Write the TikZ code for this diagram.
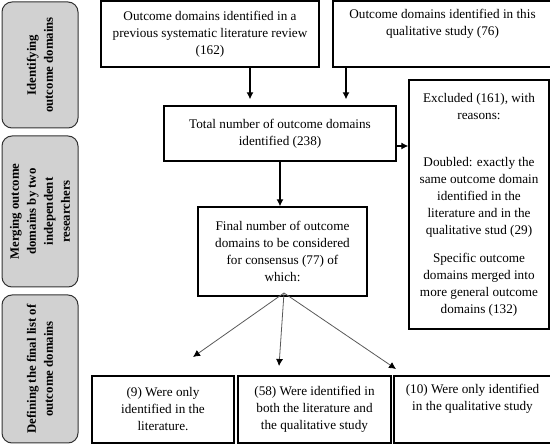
\documentclass[tikz,border=0pt]{standalone}
\usepackage{fontspec}
\setmainfont{Liberation Serif}
\usetikzlibrary{arrows.meta}

\begin{document}
\begin{tikzpicture}[x=1pt,y=1pt,
  box/.style={draw,line width=1.4pt,align=center,inner sep=2pt,font=\fontsize{13.2}{17}\selectfont},
  phase/.style={draw=black!80,line width=1pt,rounded corners=10pt,fill=black!18,rotate=90,align=center,minimum height=76pt,font=\fontsize{12.8}{17}\selectfont\bfseries},
  arr/.style={line width=1.1pt,-{Latex[length=7pt,width=7pt]}},
  fan/.style={draw=black!65,line width=0.8pt,-{Latex[length=7pt,width=7pt,black]}}]
\useasboundingbox (0,0) rectangle (550,445);
% phases on the left
\node[phase,minimum width=126pt] (ident) at (40,380) {Identifying\\outcome domains};
\node[phase,minimum width=151pt] (merge) at (40,233.5) {Merging outcome\\domains by two\\independent\\researchers};
\node[phase,minimum width=148pt] (define) at (40,76) {Defining the final list of\\outcome domains};
% sources
\node[box,minimum width=218pt,minimum height=66pt] (review) at (210,411) {Outcome domains identified in a\\previous systematic literature review\\(162)};
\node[box,minimum width=219pt,minimum height=66pt] (study) at (442.5,411) {Outcome domains identified in this\\qualitative study (76)\\[6pt]};
\node[box,minimum width=232pt,minimum height=55pt] (total) at (280,311.5) {Total number of outcome domains\\identified (238)};
\node[box,minimum width=140pt,minimum height=249pt] (excl) at (479,240.5) {Excluded (161), with\\reasons:\\[30pt]Doubled: exactly the\\same outcome domain\\identified in the\\literature and in the\\qualitative stud (29)\\[11pt]Specific outcome\\domains merged into\\more general outcome\\domains (132)};
\node[box,minimum width=169pt,minimum height=89pt] (cons) at (282.5,193.5) {Final number of outcome\\domains to be considered\\for consensus (77) of\\which:};
% final list
\node[box,minimum width=142pt,minimum height=67pt] (lit) at (163,35.5) {(9) Were only\\identified in the\\literature.};
\node[box,minimum width=153pt,minimum height=67pt] (both) at (314.5,35.5) {(58) Were identified in\\both the literature and\\the qualitative study};
\node[box,minimum width=157pt,minimum height=67pt] (qual) at (472.5,35.5) {(10) Were only identified\\in the qualitative study\\[8pt]};
\coordinate (apex) at (284,152);
\coordinate (toLit) at (193,88);
\coordinate (toBoth) at (279,79);
\coordinate (toQual) at (396,76);
\draw[arr,shorten >=6pt] (250,0 |- review.south) -- (250,0 |- total.north);
\draw[arr,shorten >=6pt] (346,0 |- study.south) -- (346,0 |- total.north);
\draw[arr] (total.east |- 0,299) -- (excl.west |- 0,299);
\draw[arr] (total.south) -- (total.south |- cons.north);
\draw[fan] (apex) -- (toLit);
\draw[fan] (apex) -- (toBoth);
\draw[fan] (apex) -- (toQual);
\end{tikzpicture}
\end{document}
